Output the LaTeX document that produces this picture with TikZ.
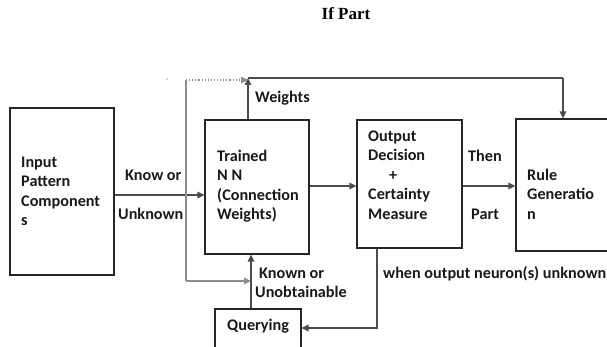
\documentclass[tikz,border=0pt]{standalone}
\usepackage{fontspec}
\setmainfont{Carlito}
\newfontfamily\titlefont{Liberation Serif}
\usetikzlibrary{arrows.meta}
\begin{document}
\begin{tikzpicture}[x=1pt,y=-1pt,
  box/.style={draw=black!85, line width=1.1pt, inner sep=0pt, minimum width=#1},
  lbl/.style={font=\fontsize{16.2}{19.5}\selectfont\bfseries, inner sep=0pt, anchor=north west, align=left, text=black!90},
  conn/.style={draw=black!70, line width=1.2pt},
  arr/.style={conn, -{Triangle[length=7pt,width=6.5pt]}},
  garr/.style={draw=black!45, line width=1.1pt, -{Triangle[length=7pt,width=6.5pt]}}]
\clip (0,0) rectangle (607,347);
\useasboundingbox (0,0) rectangle (607,347);

% title
\node[font=\titlefont\bfseries\fontsize{17}{20}\selectfont, anchor=base, inner sep=0pt] (title) at (346,20) {If Part};

% boxes
\node[box=104pt, minimum height=167pt] (inbox) at (62,191.5) {};
\node[box=104pt, minimum height=134pt] (nn) at (257,187) {};
\node[box=105pt, minimum height=128pt] (out) at (409.5,184) {};
\node[box=134pt, minimum height=132pt] (rule) at (583,185) {};
\node[box=86pt, minimum height=60pt] (query) at (258,339) {};

% box texts
\node[lbl] (tin) at (21,153.35) {\strut Input\\Pattern\\Component\\s};
\node[lbl] (tnn) at (217,147.35) {\strut Trained\\N N\\(Connection\\Weights)};
\node[lbl] (tout) at (368,127.35) {\strut Output\\Decision\\\hspace*{21pt}+\\Certainty\\Measure};
\node[lbl] (trule) at (527,166.35) {\strut Rule\\Generatio\\n};
\node[lbl] (tq) at (227,316.35) {\strut Querying};

% connector labels
\node[lbl] (l1) at (125,166.35) {\strut Know or};
\node[lbl] (l2) at (118,205.35) {\strut Unknown};
\node[lbl] (l3) at (468,147.35) {\strut Then};
\node[lbl] (l4) at (471,205.35) {\strut Part};
\node[lbl] (l5) at (255,88.35) {\strut Weights};
\node[lbl] (l6) at (259,264.35) {\strut Known or};
\node[lbl] (l7) at (255,283.35) {\strut Unobtainable};
\node[lbl] (l8) at (383,264.35) {\strut when output neuron(s) unknown};

% coordinates
\coordinate (tl) at (248,78);
\coordinate (tr) at (563,78);
\coordinate (gl) at (186,80);
\coordinate (gb) at (186,281);
\coordinate (qx) at (251,281);
\coordinate (ob) at (377,328);

% main flow
\draw[arr] (inbox.east |- 0,195) -- (nn.west |- 0,195);
\draw[arr] (nn.east |- 0,186) -- (out.west |- 0,186);
\draw[arr] (out.east |- 0,186) -- (rule.west |- 0,186);

% weights
\draw[arr] (nn.north -| tl) -- (tl);
\draw[conn] (tl) -- (tr);
\draw[arr] (tr) -- (rule.north -| tr);

% querying loop
\draw[arr] (query.north -| qx) -- (nn.south -| qx);
\draw[arr] (out.south -| ob) -- (ob) -- (query.east |- ob);

% gray feedback
\draw[draw=black!45, line width=1.1pt] (gb) -- (gl);
\draw[garr, dotted] (gl) -- (tl |- gl);
\draw[garr] (gb) -- (qx);
\fill[black!30] (167,79) circle (0.8pt);
\end{tikzpicture}
\end{document}
